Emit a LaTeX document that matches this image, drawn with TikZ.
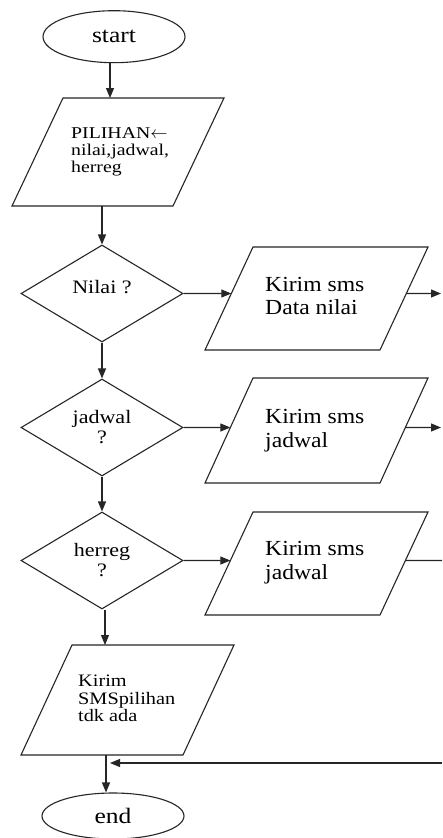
\documentclass[tikz,border=0pt]{standalone}
\usepackage{fontspec}
\setmainfont{Liberation Serif}
\newfontfamily\fA{Liberation Serif}[FakeStretch=1.1]
\newfontfamily\fB{Liberation Serif}[FakeStretch=1.16]
\newfontfamily\fC{Liberation Serif}[FakeStretch=1.2]
\usetikzlibrary{shapes.geometric,arrows.meta,calc}
\newcommand\mkpara[6]{\draw[shp] (#2,#3) coordinate (#1-bl) -- ++(#4,0) coordinate (#1-br) -- ++(#6,-#5) coordinate (#1-tr) -- ++(-#4,0) coordinate (#1-tl) -- cycle;}
\begin{document}
\begin{tikzpicture}[x=1pt,y=-1pt,
  shp/.style={draw=black!85, line width=1.1pt, line join=miter},
  arr/.style={draw=black!85, line width=1.1pt, -{Triangle[length=10pt,width=8pt]}},
  ln/.style={draw=black!85, line width=1.1pt},
  term/.style={shp, ellipse, minimum width=142pt, inner sep=0pt, font=\fB\fontsize{22}{24}\selectfont},
  dec/.style={shp, diamond, minimum width=162pt, minimum height=97pt, aspect=1.67, inner sep=0pt, align=center, font=\fB\fontsize{19}{20}\selectfont},
  ptext/.style={inner sep=0pt, anchor=north west, align=left},
]
\useasboundingbox (0,0) rectangle (442,838);
\fill[white] (0,0) rectangle (442,838);

% terminals
\node[term, minimum height=52pt] (start) at (114,36.7) {start};
\node[term, minimum height=46pt] (end) at (113,816) {end};

% parallelograms
\mkpara{p1}{12}{206}{161}{108}{51}
\mkpara{p2}{205}{350}{175}{103}{48}
\mkpara{p3}{205}{483}{175}{105}{48}
\mkpara{p4}{205}{615}{175}{103}{48}
\mkpara{p5}{21}{755}{162}{110}{51}

\node[ptext, font=\fC\fontsize{16.5}{17}\selectfont] (t1) at (71,127) {PILIHAN$\leftarrow$\\nilai,jadwal,\\herreg};
\node[ptext, font=\fA\fontsize{21.5}{23.5}\selectfont] (t2) at (265,277) {Kirim sms\\Data nilai};
\node[ptext, font=\fA\fontsize{21.5}{23.5}\selectfont] (t3) at (265,409.5) {Kirim sms\\jadwal};
\node[ptext, font=\fA\fontsize{21.5}{23.5}\selectfont] (t4) at (265,541.5) {Kirim sms\\jadwal};
\node[ptext, font=\fB\fontsize{17.5}{17.5}\selectfont] (t5) at (78,675) {Kirim\\SMSpilihan\\tdk ada};

% decisions
\node[dec, text depth=13pt] (d1) at (102,293.5) {Nilai ?};
\node[dec] (d2) at (102,427.5) {jadwal\\?};
\node[dec] (d3) at (102,560.5) {herreg\\?};

% edge points
\coordinate (p2-w) at ($(p2-bl)!0.5485!(p2-tl)$);
\coordinate (p2-e) at ($(p2-br)!0.5485!(p2-tr)$);
\coordinate (p3-w) at ($(p3-bl)!0.5286!(p3-tl)$);
\coordinate (p3-e) at ($(p3-br)!0.5286!(p3-tr)$);
\coordinate (p4-w) at ($(p4-bl)!0.529!(p4-tl)$);
\coordinate (p4-e) at ($(p4-br)!0.529!(p4-tr)$);
\coordinate (x2) at (441,293.5);
\coordinate (x3) at (441,427.5);
\coordinate (x4) at (442,560.5);
\coordinate (j) at (106,763);
\coordinate (rin) at (442,763);

% connectors
\draw[arr] ([xshift=-4pt]start.south) -- ([xshift=-4pt]start.south |- p1-tl);
\draw[arr] (p1-bl -| d1.north) -- (d1.north);
\draw[arr] (d1.south) -- (d2.north);
\draw[arr] (d2.south) -- (d3.north);
\draw[arr] ([xshift=3pt]d3.south) -- ([xshift=3pt]d3.south |- p5-tl);
\draw[arr] (d1.east) -- (p2-w);
\draw[arr] (d2.east) -- (p3-w);
\draw[arr] (d3.east) -- (p4-w);
\draw[arr] (p2-e) -- (x2);
\draw[arr] (p3-e) -- (x3);
\draw[ln] (p4-e) -- (x4);
\draw[arr] (p5-bl -| j) -- (end.north -| j);
\draw[arr] (rin) -- ([xshift=4pt]j);
\end{tikzpicture}
\end{document}
